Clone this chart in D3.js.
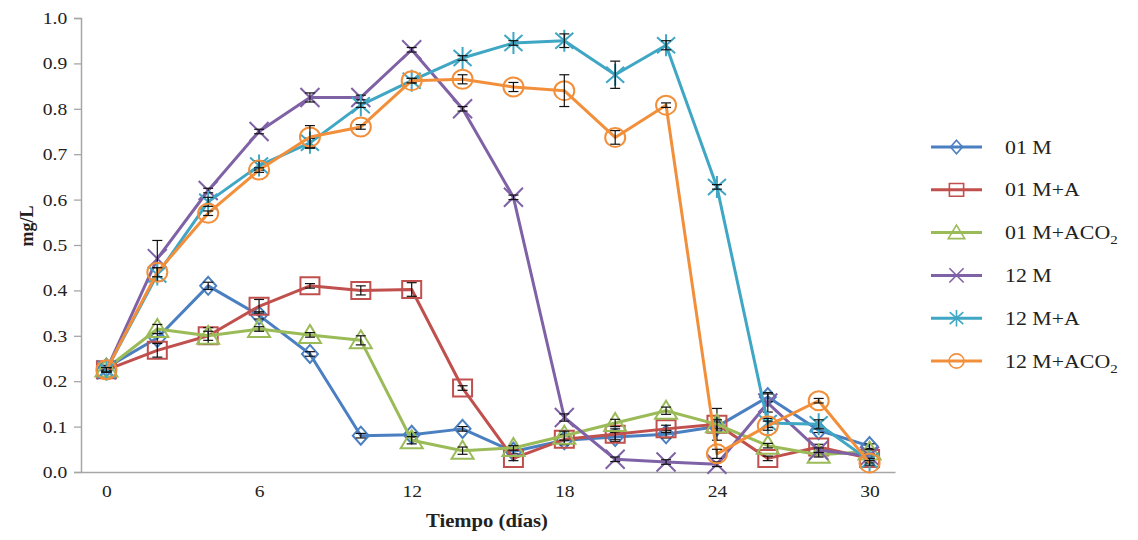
<!DOCTYPE html>
<html>
<head>
<meta charset="utf-8">
<script src="https://cdn.jsdelivr.net/npm/d3@7"></script>
<style>
  html, body { margin: 0; padding: 0; background: #fff; }
  svg { display: block; }
  text { font-family: "Liberation Serif", "Times New Roman", serif; fill: #222; }
</style>
</head>
<body>
<svg id="chart" width="1138" height="540"></svg>
<script>
// Sampling days
const days = [0, 2, 4, 6, 8, 10, 12, 14, 16, 18, 20, 22, 24, 26, 28, 30];
const xTicks = [0, 6, 12, 18, 24, 30];
const yTicks = [0, 0.1, 0.2, 0.3, 0.4, 0.5, 0.6, 0.7, 0.8, 0.9, 1.0];

// Concentration (mg/L) per treatment
const m01      = [0.23, 0.295, 0.41, 0.345, 0.26, 0.08, 0.082, 0.095, 0.045, 0.07, 0.077, 0.083, 0.10, 0.165, 0.092, 0.057];
const m01A     = [0.225, 0.268, 0.30, 0.365, 0.41, 0.40, 0.402, 0.185, 0.03, 0.072, 0.083, 0.095, 0.105, 0.03, 0.055, 0.03];
const m01ACO2  = [0.228, 0.315, 0.30, 0.315, 0.302, 0.29, 0.07, 0.047, 0.053, 0.08, 0.108, 0.135, 0.105, 0.058, 0.038, 0.045];
const m12      = [0.225, 0.47, 0.62, 0.75, 0.825, 0.825, 0.93, 0.80, 0.605, 0.12, 0.028, 0.022, 0.017, 0.152, 0.048, 0.035];
const m12A     = [0.225, 0.435, 0.595, 0.675, 0.725, 0.808, 0.862, 0.912, 0.945, 0.95, 0.875, 0.94, 0.628, 0.108, 0.105, 0.025];
const m12ACO2  = [0.225, 0.44, 0.57, 0.665, 0.738, 0.76, 0.862, 0.865, 0.848, 0.84, 0.737, 0.808, 0.04, 0.102, 0.157, 0.02];

// Standard deviations
const e01      = [0.005, 0.01, 0.008, 0.008, 0.005, 0.005, 0.005, 0.005, 0.005, 0.01, 0.01, 0.008, 0.01, 0.01, 0.005, 0.005];
const e01A     = [0.005, 0.015, 0.018, 0.015, 0.005, 0.01, 0.015, 0.005, 0.005, 0.01, 0.012, 0.008, 0.035, 0.005, 0.006, 0.005];
const e01ACO2  = [0.005, 0.01, 0.01, 0.005, 0.005, 0.01, 0.008, 0.008, 0.005, 0.01, 0.008, 0.008, 0.01, 0.005, 0.005, 0.005];
const e12      = [0.005, 0.04, 0.005, 0.005, 0.01, 0.005, 0.005, 0.005, 0.005, 0.008, 0.005, 0.005, 0.005, 0.02, 0.005, 0.005];
const e12A     = [0.005, 0.015, 0.01, 0.01, 0.01, 0.005, 0.005, 0.005, 0.005, 0.015, 0.03, 0.01, 0.005, 0.01, 0.01, 0.005];
const e12ACO2  = [0.005, 0.01, 0.005, 0.005, 0.025, 0.005, 0.005, 0.01, 0.01, 0.035, 0.015, 0.005, 0.01, 0.01, 0.005, 0.005];

const seriesNames = ["01 M", "01 M+A", "01 M+ACO2", "12 M", "12 M+A", "12 M+ACO2"];
const seriesColors = ["#4a7fc1", "#c0504d", "#9bbb59", "#7f62a6", "#3fa6c4", "#f28f3b"];
const seriesMarkers = ["diamond", "square", "triangle", "cross", "star", "circle"];
const seriesValues = [m01, m01A, m01ACO2, m12, m12A, m12ACO2];
const seriesErrors = [e01, e01A, e01ACO2, e12, e12A, e12ACO2];

const svg = d3.select("#chart");
const SX = 1.15; // horizontal text widening

const x = d3.scaleLinear().domain([-1, 31]).range([81, 895]);
const y = d3.scaleLinear().domain([0, 1]).range([472, 18]);

function markerPath(type, k) {
  const s = k || 1;
  switch (type) {
    case "diamond": return `M0,${-9*s} L${8*s},0 L0,${9*s} L${-8*s},0 Z`;
    case "square": return `M${-9.5*s},${-8.5*s} H${9.5*s} V${8.5*s} H${-9.5*s} Z`;
    case "triangle": return `M0,${-10*s} L${11*s},${8*s} L${-11*s},${8*s} Z`;
    case "cross": return `M${-9.5*s},${-9.5*s} L${9.5*s},${9.5*s} M${-9.5*s},${9.5*s} L${9.5*s},${-9.5*s}`;
    case "star": return `M${-9*s},${-8*s} L${9*s},${8*s} M${-9*s},${8*s} L${9*s},${-8*s} M0,${-11*s} L0,${11*s}`;
    case "circle": {
      const rx = 10*s, ry = 9.5*s;
      return `M${-rx},0 A${rx},${ry} 0 1,0 ${rx},0 A${rx},${ry} 0 1,0 ${-rx},0 Z`;
    }
  }
}

// Axes
const yAxis = d3.axisLeft(y).tickValues(yTicks).tickSize(7).tickPadding(5).tickFormat(d3.format(".1f"));
const gy = svg.append("g").attr("transform", "translate(81,0)").call(yAxis);
gy.select(".domain").attr("stroke", "#a6a6a6").attr("stroke-width", 1.5);
gy.selectAll(".tick line").attr("stroke", "#a6a6a6").attr("stroke-width", 1.3);
gy.selectAll(".tick text").attr("font-size", 17).attr("font-family", "Liberation Serif").attr("fill", "#222")
  .attr("transform", `scale(${SX},1)`);

const xAxis = d3.axisBottom(x).tickValues(xTicks).tickSize(0).tickPadding(13).tickFormat(d3.format("d"));
const gx = svg.append("g").attr("transform", "translate(0,472)").call(xAxis);
gx.select(".domain").attr("stroke", "#a6a6a6").attr("stroke-width", 1.5);
gx.selectAll(".tick text").attr("font-size", 17).attr("font-family", "Liberation Serif").attr("fill", "#222")
  .attr("transform", `scale(${SX},1)`);

// Axis titles
svg.append("text")
  .attr("transform", "translate(33,226) rotate(-90)")
  .attr("text-anchor", "middle")
  .attr("font-size", 18).attr("font-weight", "bold")
  .text("mg/L");

svg.append("text")
  .attr("transform", `translate(487,527) scale(${SX},1)`)
  .attr("text-anchor", "middle")
  .attr("font-size", 18).attr("font-weight", "bold")
  .text("Tiempo (días)");

// Series
const line = d3.line().x((d, i) => x(days[i])).y(d => y(d));
const plot = svg.append("g");

seriesValues.forEach((vals, si) => {
  const g = plot.append("g");
  const col = seriesColors[si];
  g.append("path").datum(vals)
    .attr("d", line)
    .attr("fill", "none")
    .attr("stroke", col)
    .attr("stroke-width", 3)
    .attr("stroke-linejoin", "round");

  g.selectAll(".m").data(vals).enter().append("path")
    .attr("transform", (d, i) => `translate(${x(days[i])},${y(d)})`)
    .attr("d", markerPath(seriesMarkers[si]))
    .attr("fill", "none")
    .attr("stroke", col)
    .attr("stroke-width", 2);

  // error bars
  const errs = seriesErrors[si];
  const eb = g.selectAll(".e").data(vals).enter().append("g")
    .attr("stroke", "#111").attr("stroke-width", 1.2);
  eb.append("line")
    .attr("x1", (d, i) => x(days[i])).attr("x2", (d, i) => x(days[i]))
    .attr("y1", (d, i) => y(d + errs[i])).attr("y2", (d, i) => y(d - errs[i]));
  eb.append("line")
    .attr("x1", (d, i) => x(days[i]) - 5).attr("x2", (d, i) => x(days[i]) + 5)
    .attr("y1", (d, i) => y(d + errs[i])).attr("y2", (d, i) => y(d + errs[i]));
  eb.append("line")
    .attr("x1", (d, i) => x(days[i]) - 5).attr("x2", (d, i) => x(days[i]) + 5)
    .attr("y1", (d, i) => y(d - errs[i])).attr("y2", (d, i) => y(d - errs[i]));
});

// Legend
const legend = svg.append("g");
seriesNames.forEach((name, si) => {
  const ly = 147 + si * 42.8;
  const col = seriesColors[si];
  legend.append("line")
    .attr("x1", 931).attr("x2", 982).attr("y1", ly).attr("y2", ly)
    .attr("stroke", col).attr("stroke-width", 3);
  legend.append("path")
    .attr("transform", `translate(956.5,${ly})`)
    .attr("d", markerPath(seriesMarkers[si], 0.75))
    .attr("fill", "none").attr("stroke", col).attr("stroke-width", 1.6);
  const t = legend.append("text")
    .attr("transform", `translate(1005,${ly + 6.5}) scale(${SX},1)`)
    .attr("font-size", 19);
  if (name.endsWith("CO2")) {
    t.append("tspan").text(name.slice(0, -1));
    t.append("tspan").attr("font-size", 13).attr("dy", 5).text("2");
  } else {
    t.text(name);
  }
});
</script>
</body>
</html>
